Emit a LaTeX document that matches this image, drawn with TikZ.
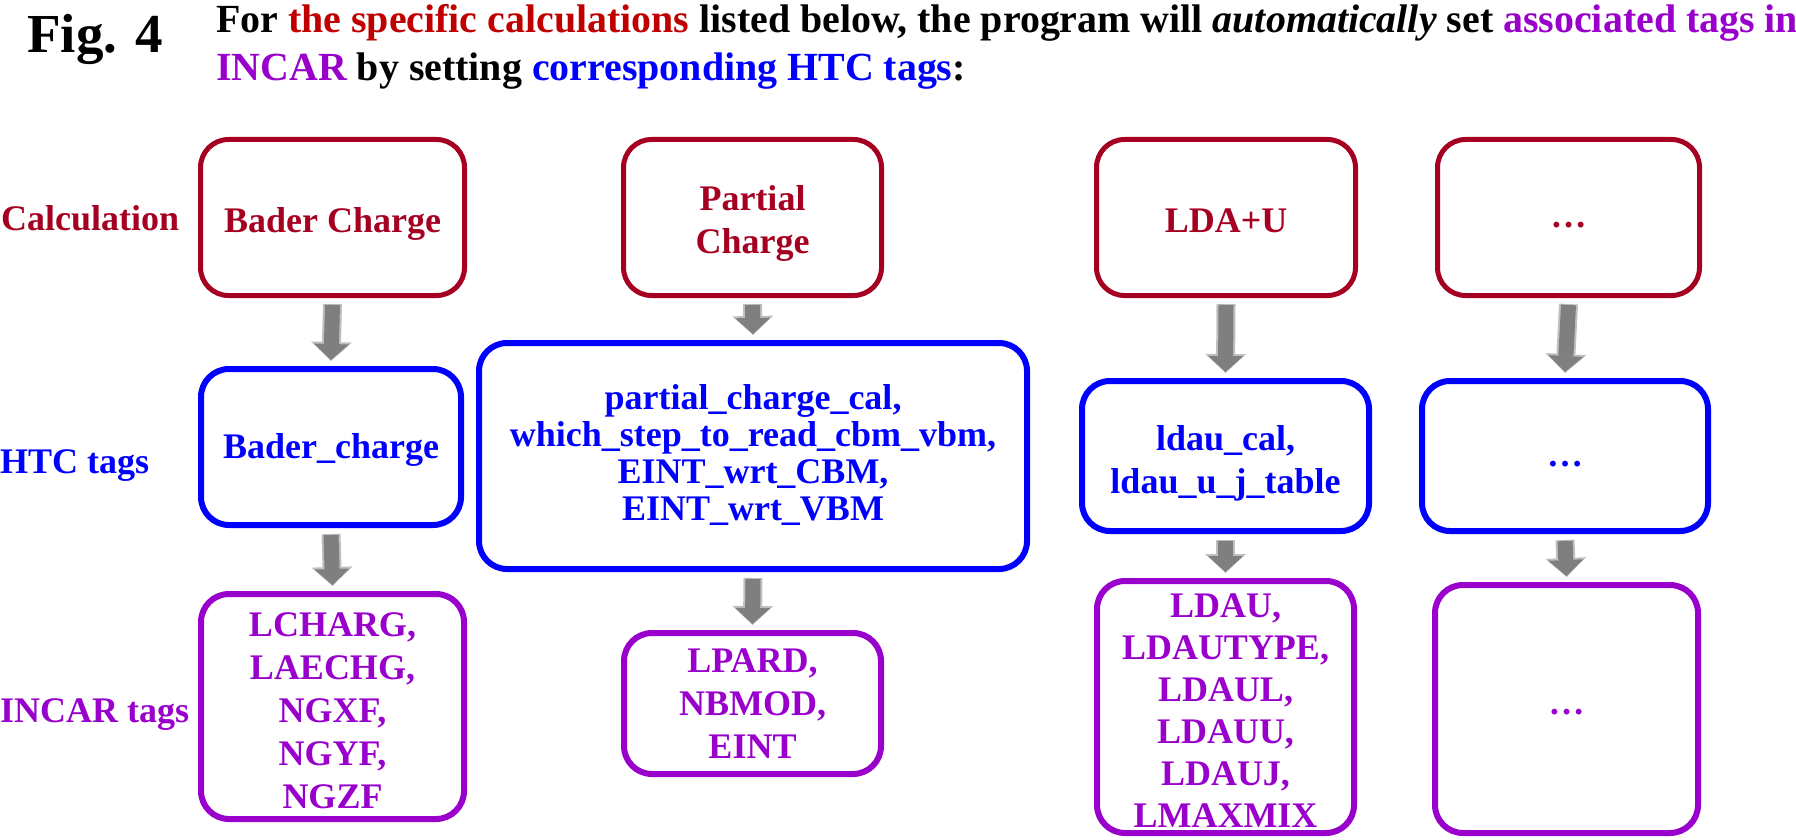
\documentclass[tikz,border=0pt]{standalone}
\usepackage{fontspec}
\setmainfont{Liberation Serif}
\usetikzlibrary{arrows.meta}
\definecolor{cred}{HTML}{A50021}
\definecolor{tred}{HTML}{C00000}
\definecolor{cblue}{HTML}{0000FF}
\definecolor{cpurp}{HTML}{9900CC}
\definecolor{agray}{HTML}{7F7F7F}
\definecolor{alight}{HTML}{BFBFBF}
\begin{document}
\begin{tikzpicture}[x=1pt,y=-1pt,
  box/.style={draw, rounded corners=28pt, inner sep=0pt},
  calcbox/.style={box, draw=cred, line width=5pt},
  htcbox/.style={box, draw=cblue, line width=6pt},
  incbox/.style={box, draw=cpurp, line width=6pt},
  txt/.style={align=center, inner sep=0pt, font=\fontsize{36}{43}\selectfont\bfseries},
  calctxt/.style={txt, text=cred},
  htctxt/.style={txt, text=cblue},
  inctxt/.style={txt, text=cpurp},
  lab/.style={anchor=base west, inner sep=0pt, font=\fontsize{36}{43}\selectfont\bfseries},
  ttl/.style={anchor=base west, inner sep=0pt, font=\fontsize{39.9}{48}\selectfont\bfseries},
  flowout/.style={draw=alight, line width=19pt, -{Triangle[width=41pt,length=19pt,line width=0pt]}},
  flowin/.style={draw=agray, line width=15pt, -{Triangle[width=35pt,length=16pt,line width=0pt]}}
]
\useasboundingbox (0,0) rectangle (1796,840);

% title
\node[anchor=base west, inner sep=0pt, font=\fontsize{55}{60}\selectfont\bfseries] (fig) at (27,53) {Fig. 4};
\node[ttl] (t1) at (216,33) {For \textcolor{tred}{the specific calculations} listed below, the program will \textit{automatically} set \textcolor{cpurp}{associated tags in}};
\node[ttl] (t2) at (216,81) {\textcolor{cpurp}{INCAR} by setting \textcolor{cblue}{corresponding HTC tags}:};

% row labels
\node[lab, text=cred] (lc) at (1,230) {Calculation};
\node[lab, text=cblue] (lh) at (0,473) {HTC tags};
\node[lab, text=cpurp] (li) at (0,722) {INCAR tags};

% calculation row
\node[calcbox, minimum width=264pt, minimum height=156pt] (c1) at (332.5,217.5) {};
\node[calcbox, minimum width=258pt, minimum height=156pt] (c2) at (752.5,217.5) {};
\node[calcbox, minimum width=259pt, minimum height=156pt] (c3) at (1226,217.5) {};
\node[calcbox, minimum width=262pt, minimum height=156pt] (c4) at (1568.5,217.5) {};
\node[calctxt] (c1t) at ([yshift=-6pt]c1.center) {Bader Charge};
\node[calctxt] (c2t) at ([yshift=-6pt]c2.center) {Partial\\Charge};
\node[calctxt] (c3t) at ([yshift=-3.5pt]c3.center) {LDA+U};
\node[calctxt] (c4t) at ([yshift=-8pt]c4.center) {…};

% HTC row
\node[htcbox, minimum width=260pt, minimum height=156pt] (h1) at (331,447) {};
\node[htcbox, minimum width=548pt, minimum height=226pt] (h2) at (753,456) {};
\node[htcbox, minimum width=287pt, minimum height=150pt] (h3) at (1225.5,456) {};
\node[htcbox, minimum width=286pt, minimum height=150pt] (h4) at (1565,456) {};
\node[htctxt] (h1t) at ([yshift=-3pt]h1.center) {Bader\_charge};
\node[htctxt, font=\fontsize{36}{37}\selectfont\bfseries] (h2t) at ([yshift=1pt]h2.center) {partial\_charge\_cal,\\which\_step\_to\_read\_cbm\_vbm,\\EINT\_wrt\_CBM,\\EINT\_wrt\_VBM};
\node[htctxt] (h3t) at ([yshift=-7pt]h3.center) {ldau\_cal,\\ldau\_u\_j\_table};
\node[htctxt] (h4t) at ([yshift=-8pt]h4.center) {…};

% INCAR row
\node[incbox, minimum width=263pt, minimum height=225pt] (i1) at (332.5,706.5) {};
\node[incbox, minimum width=257pt, minimum height=141pt] (i2) at (752.5,703.5) {};
\node[incbox, minimum width=257pt, minimum height=252pt] (i3) at (1225.5,707) {};
\node[incbox, minimum width=263pt, minimum height=248pt] (i4) at (1566.5,709) {};
\node[inctxt] (i1t) at ([yshift=-4.5pt]i1.center) {LCHARG,\\LAECHG,\\NGXF,\\NGYF,\\NGZF};
\node[inctxt] (i2t) at (i2.center) {LPARD,\\NBMOD,\\EINT};
\node[inctxt, font=\fontsize{36}{42}\selectfont\bfseries] (i3t) at ([yshift=-3.5pt]i3.center) {LDAU,\\LDAUTYPE,\\LDAUL,\\LDAUU,\\LDAUJ,\\LMAXMIX};
\node[inctxt] (i4t) at ([yshift=-3.5pt]i4.center) {…};

% arrows
\foreach \a/\b in {c1/h1, c2/h2, c3/h3, c4/h4, h1/i1, h2/i2, h3/i3, h4/i4} {
  \draw[flowout] ([yshift=-6pt]\a.south) -- ([yshift=5pt]\b.north);
  \draw[flowin] ([yshift=-7pt]\a.south) -- ([yshift=6pt]\b.north);
}
\end{tikzpicture}
\end{document}
